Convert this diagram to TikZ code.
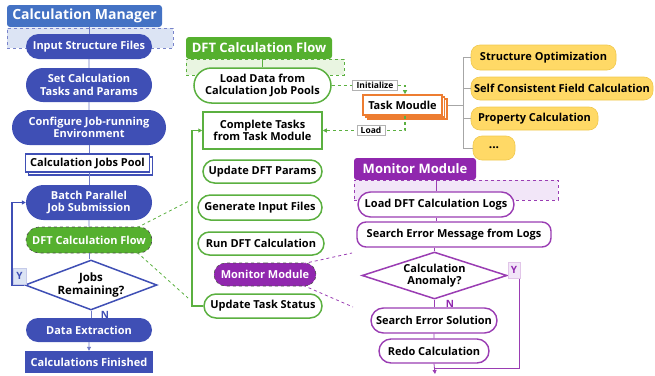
\documentclass[tikz,border=0pt]{standalone}
\usepackage{fontspec}
\setmainfont{Open Sans}
\usetikzlibrary{shapes.misc,shapes.geometric,arrows.meta,calc,shadows}
\definecolor{cmblue}{HTML}{4472C4}
\definecolor{nblue}{HTML}{3F4FB5}
\definecolor{lblue}{HTML}{DCE4F4}
\definecolor{hgreen}{HTML}{55B02E}
\definecolor{ngreen}{HTML}{5BB040}
\definecolor{lgreen}{HTML}{E9F5E1}
\definecolor{mpurp}{HTML}{9027AE}
\definecolor{lpurp}{HTML}{F2E6F8}
\definecolor{npurp}{HTML}{9A3DB3}
\definecolor{orng}{HTML}{ED7D31}
\definecolor{ylw}{HTML}{FFD966}
\definecolor{ylwb}{HTML}{F0C84E}
\definecolor{treeg}{HTML}{A6A6A6}
\begin{document}
\begin{tikzpicture}[x=1pt,y=-1pt,
  base/.style={font=\bfseries\fontsize{11}{12.5}\selectfont, align=center, inner sep=1pt},
  hdr/.style={rectangle, rounded corners=3pt, text=white, font=\bfseries\fontsize{13}{15}\selectfont, inner sep=1pt},
  region/.style={rectangle, dashed, line width=0.8pt},
  bn/.style={base, rounded rectangle, fill=nblue, text=white},
  gn/.style={base, rounded rectangle, draw=ngreen, line width=1.5pt, fill=white},
  pn/.style={base, rounded rectangle, draw=npurp, line width=1.4pt, fill=white},
  yn/.style={base, rectangle, rounded corners=9pt, fill=ylw, draw=ylwb, line width=0.6pt},
  blink/.style={draw=nblue!75, line width=0.8pt},
  plink/.style={draw=npurp, line width=0.8pt},
  glink/.style={draw=ngreen, line width=1.3pt},
  tip/.style={-{Triangle[length=4pt,width=4pt]}},
  tag/.style={rectangle, draw=gray!60, fill=white, font=\bfseries\fontsize{8.5}{9}\selectfont, inner sep=1pt, minimum height=10},
  dtext/.style={font=\bfseries\fontsize{11.5}{13}\selectfont, align=center, inner sep=0pt}
]
\useasboundingbox (0,0) rectangle (655,375);

% ---------------- left column ----------------
\node[hdr, fill=cmblue, minimum width=155, minimum height=22, font=\bfseries\fontsize{14}{16}\selectfont] (cmh) at (84.5,16) {Calculation Manager};
\node[region, draw=nblue!70, fill=lblue, minimum width=166, minimum height=20] (cmr) at (90,38) {};
\node[bn, minimum width=128, minimum height=25] (isf) at (89,46.5) {Input Structure Files};
\node[bn, minimum width=128, minimum height=34] (sct) at (89,85) {Set Calculation\\Tasks and Params};
\node[bn, minimum width=156, minimum height=35] (cje) at (89,127.5) {Configure Job-running\\Environment};
\node[base, rectangle, draw=nblue, line width=1.2pt, fill=white, minimum width=124, minimum height=18,
  copy shadow={shadow xshift=3pt, shadow yshift=-3pt, draw=nblue, fill=white, line width=1.2pt}] (cjp) at (87.5,163) {Calculation Jobs Pool};
\node[bn, minimum width=128, minimum height=35] (bps) at (89,202.5) {Batch Parallel\\Job Submission};
\node[base, rounded rectangle, fill=hgreen, draw=black!70, dashed, line width=0.6pt, text=white, minimum width=128, minimum height=26] (dcf) at (89,240) {DFT Calculation Flow};
\node[diamond, draw=nblue, line width=1.5pt, fill=white, minimum width=132, minimum height=50, inner sep=0pt] (jr) at (91,285) {};
\node[dtext] (jrt) at (jr) {Jobs\\Remaining?};
\node[bn, minimum width=128, minimum height=24] (de) at (89,330) {Data Extraction};
\node[base, rectangle, fill=nblue, text=white, minimum width=128, minimum height=22] (cf) at (89,362) {Calculations Finished};

\draw[blink] (isf.north |- cmh.south) -- (isf.north);
\draw[blink] (isf) -- (sct);
\draw[blink] (sct) -- (cje);
\draw[blink] (cje.south) -- (cjp.north -| cje.south);
\draw[blink] (cjp.south -| bps.north) -- (bps.north);
\draw[blink] (bps) -- (dcf);
\draw[blink] (dcf.south) -- (jr.north -| dcf.south);
\draw[blink] (jr.south) -- (de.north -| jr.south);
\draw[blink, tip] (de) -- (cf);
\coordinate (yl1) at (12,285);
\coordinate (yl2) at (12,202.5);
\draw[draw=nblue, line width=1.3pt, tip] (jr.west) -- (yl1) -- (yl2) -- (bps.west);
\node[rectangle, fill=lblue, draw=nblue!30, text=nblue, font=\bfseries\fontsize{10}{11}\selectfont, minimum width=13, minimum height=16, inner sep=0pt] (ylab) at (19.5,276) {Y};
\node[text=nblue, font=\bfseries\fontsize{10}{11}\selectfont, inner sep=0pt] (nlab) at (105,315) {N};

% ---------------- middle column ----------------
\node[hdr, fill=hgreen, minimum width=146, minimum height=22] (dfh) at (259,48) {DFT Calculation Flow};
\node[region, draw=ngreen, fill=lgreen, minimum width=158, minimum height=16] (dfr) at (265,67) {};
\node[gn, minimum width=139, minimum height=35] (ld) at (262.5,85.5) {Load Data from\\Calculation Job Pools};
\draw[draw=ngreen, line width=0.8pt] (ld.north |- dfh.south) -- (ld.north);
\node[base, rectangle, draw=orng, line width=1.6pt, fill=white, minimum width=79, minimum height=20,
  double copy shadow={shadow xshift=2.5pt, shadow yshift=-2pt, draw=orng, fill=white, line width=1.6pt}] (tm) at (402.5,105) {Task Moudle};
\node[base, rectangle, draw=ngreen, line width=1.5pt, fill=white, minimum width=119, minimum height=37] (ct) at (262.5,130.5) {Complete Tasks\\from Task Module};
\node[gn, minimum width=121, minimum height=23] (udp) at (262.5,171.5) {Update DFT Params};
\node[gn, minimum width=126, minimum height=25] (gif) at (260,207.5) {Generate Input Files};
\node[gn, minimum width=128, minimum height=23] (rdc) at (261,243.5) {Run DFT Calculation};
\node[base, rounded rectangle, fill=mpurp, draw=black!70, dashed, line width=0.6pt, text=white, minimum width=104, minimum height=23] (mm) at (265,274.5) {Monitor Module};
\node[gn, minimum width=120, minimum height=24] (uts) at (263,306) {Update Task Status};

\coordinate (ini) at (405,85.5);
\draw[glink, dashed, tip] (ld.east) -- (ini) -- (ini |- tm.north);
\node[tag, minimum width=45] (initag) at (375,85.5) {Initialize};
\coordinate (lda) at (405,130.5);
\draw[glink, dashed, tip] (tm.south -| lda) -- (lda) -- (ct.east);
\node[tag, minimum width=28] (ldtag) at (371,130.5) {Load};
\coordinate (lp1) at (192,306);
\coordinate (lp2) at (192,130.5);
\draw[glink, tip] (uts.west) -- (lp1) -- (lp2) -- (ct.west);

% callout lines
\coordinate (gc1) at (189,201);
\coordinate (gc2) at (188,298);
\draw[draw=ngreen, dashed, line width=0.8pt] ($(dcf.north)+(48,1)$) -- (gc1);
\draw[draw=ngreen, dashed, line width=0.8pt] ($(dcf.south)+(48,-1)$) -- (gc2);
\coordinate (pc1) at (352,253);
\coordinate (pc2) at (353,307);
\draw[draw=npurp, dashed, line width=0.8pt] ($(mm.north)+(38,1)$) -- (pc1);
\draw[draw=npurp, dashed, line width=0.8pt] ($(mm.south)+(38,-1)$) -- (pc2);

% ---------------- task types ----------------
\node[yn, minimum width=145, minimum height=25] (so) at (543.5,57.5) {Structure Optimization};
\node[yn, minimum width=182, minimum height=23] (scf) at (562,88.5) {Self Consistent Field Calculation};
\node[yn, minimum width=127, minimum height=23] (pcn) at (534.5,118.5) {Property Calculation};
\node[yn, minimum width=42, minimum height=24, font=\bfseries\fontsize{12}{12}\selectfont] (dots) at (494,148) {...};
\coordinate (tr) at (463,105);
\draw[draw=treeg, line width=0.8pt] ($(tm.east)+(5,0)$) -- (tr);
\draw[draw=treeg, line width=0.8pt] (so.west -| tr) -- (dots.west -| tr);
\draw[draw=treeg, line width=0.8pt] (so.west -| tr) -- (so.west);
\draw[draw=treeg, line width=0.8pt] (scf.west -| tr) -- (scf.west);
\draw[draw=treeg, line width=0.8pt] (pcn.west -| tr) -- (pcn.west);
\draw[draw=treeg, line width=0.8pt] (dots.west -| tr) -- (dots.west);

% ---------------- monitor module ----------------
\node[hdr, fill=mpurp, minimum width=122, minimum height=22] (mmh) at (415,169) {Monitor Module};
\node[region, draw=npurp, fill=lpurp, minimum width=204, minimum height=20] (mmr) at (456,190) {};
\node[pn, minimum width=158, minimum height=25] (ldl) at (436,204.5) {Load DFT Calculation Logs};
\node[base, rectangle, rounded corners=9pt, draw=npurp, line width=1.4pt, fill=white, minimum width=194, minimum height=25] (sem) at (454,234.5) {Search Error Message from Logs};
\node[diamond, draw=npurp, line width=1.5pt, fill=white, minimum width=145, minimum height=47, inner sep=0pt] (ca) at (434.5,275.5) {};
\node[dtext, font=\bfseries\fontsize{11}{12.5}\selectfont] (cat) at (ca) {Calculation\\Anomaly?};
\node[pn, minimum width=128, minimum height=25] (ses) at (434,320.5) {Search Error Solution};
\node[pn, minimum width=112, minimum height=24] (rc) at (434,351) {Redo Calculation};

\coordinate (mend) at (435,374);
\draw[plink] (ldl.north |- mmh.south) -- (ldl.north);
\draw[plink] (ldl.south) -- (sem.north -| ldl.south);
\draw[plink] (sem.south -| ca.north) -- (ca.north);
\draw[plink] (ca.south) -- (ses.north -| ca.south);
\draw[plink] (ses) -- (rc);
\draw[plink, tip] (rc.south) -- (mend);
\coordinate (yr1) at (519,275.5);
\coordinate (yr2) at (519,368);
\coordinate (yr3) at (435,368);
\draw[plink] (ca.east) -- (yr1) -- (yr2) -- (yr3);
\node[rectangle, fill=lpurp, draw=npurp!30, text=mpurp, font=\bfseries\fontsize{10}{11}\selectfont, minimum width=12, minimum height=16, inner sep=0pt] (ylab2) at (514,270) {Y};
\node[text=mpurp, font=\bfseries\fontsize{10}{11}\selectfont, inner sep=0pt] (nlab2) at (450,304) {N};
\end{tikzpicture}
\end{document}
